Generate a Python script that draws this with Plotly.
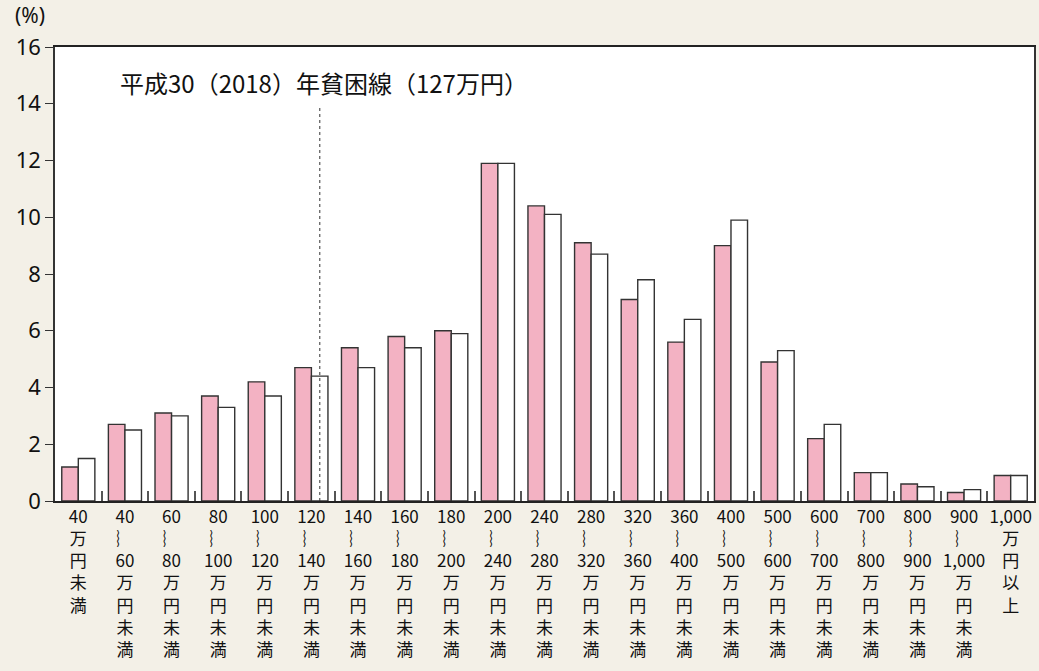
import plotly.graph_objects as go

tilde = "︴"
ranges = [("40", "60"), ("60", "80"), ("80", "100"), ("100", "120"), ("120", "140"),
          ("140", "160"), ("160", "180"), ("180", "200"), ("200", "240"), ("240", "280"),
          ("280", "320"), ("320", "360"), ("360", "400"), ("400", "500"), ("500", "600"),
          ("600", "700"), ("700", "800"), ("800", "900"), ("900", "1,000")]
categories = (["40<br>万<br>円<br>未<br>満"]
              + [f"{a}<br>{tilde}<br>{b}<br>万<br>円<br>未<br>満" for a, b in ranges]
              + ["1,000<br>万<br>円<br>以<br>上"])

series_pink = [1.2, 2.7, 3.1, 3.7, 4.2, 4.7, 5.4, 5.8, 6.0, 11.9, 10.4, 9.1, 7.1, 5.6,
               9.0, 4.9, 2.2, 1.0, 0.6, 0.3, 0.9]
series_white = [1.5, 2.5, 3.0, 3.3, 3.7, 4.4, 4.7, 5.4, 5.9, 11.9, 10.1, 8.7, 7.8, 6.4,
                9.9, 5.3, 2.7, 1.0, 0.5, 0.4, 0.9]

poverty_label = "平成30（2018）年貧困線（127万円）"
poverty_pos = 5.18  # category position of 127万円 line as drawn

FONT = "Noto Sans CJK JP"
BG = "#F3F0E7"

fig = go.Figure()
fig.add_trace(go.Bar(x=categories, y=series_pink, name="系列1",
                     marker=dict(color="#F3B2C3", line=dict(color="#333", width=1.4))))
fig.add_trace(go.Bar(x=categories, y=series_white, name="系列2",
                     marker=dict(color="#FFFFFF", line=dict(color="#333", width=1.4))))

fig.add_shape(type="line", xref="x", yref="y", x0=poverty_pos, x1=poverty_pos,
              y0=0, y1=13.85, line=dict(color="#333", width=1, dash="dot"))
fig.add_annotation(x=poverty_pos, y=14.75, xref="x", yref="y", text=poverty_label,
                   showarrow=False, xshift=4, font=dict(size=24, color="#111", family=FONT))
fig.add_annotation(x=0, y=1, xref="paper", yref="paper", text="(%)", showarrow=False,
                   xanchor="right", yanchor="bottom", xshift=-8, yshift=16,
                   font=dict(size=21, color="#111", family="Noto Sans"))

fig.update_layout(
    width=1039, height=671,
    paper_bgcolor=BG, plot_bgcolor="#FFFFFF",
    margin=dict(l=55, r=3, t=47, b=170),
    barmode="group", bargap=0.29, bargroupgap=0,
    showlegend=False,
    font=dict(family=FONT, color="#111"),
)
fig.update_xaxes(type="category", tickson="boundaries", ticks="inside", ticklen=10,
                 tickcolor="#555", tickwidth=1.5, showline=True, linecolor="#222",
                 linewidth=1.5, mirror=True, showgrid=False, tickangle=0,
                 tickfont=dict(size=17, color="#111", family=FONT))
fig.update_yaxes(range=[0, 16], dtick=2, ticks="outside", ticklen=8, tickcolor="#333",
                 showline=True, linecolor="#333", linewidth=1.5, mirror=True,
                 showgrid=False, zeroline=False,
                 tickfont=dict(size=22, color="#111", family="Noto Sans"))

fig.write_html("out.html", config={"displayModeBar": False})
with open("out.html", encoding="utf-8") as f:
    html = f.read()
html = html.replace("<head>", "<head><style>html,body{margin:0;padding:0;overflow:hidden;}</style>", 1)
with open("out.html", "w", encoding="utf-8") as f:
    f.write(html)
